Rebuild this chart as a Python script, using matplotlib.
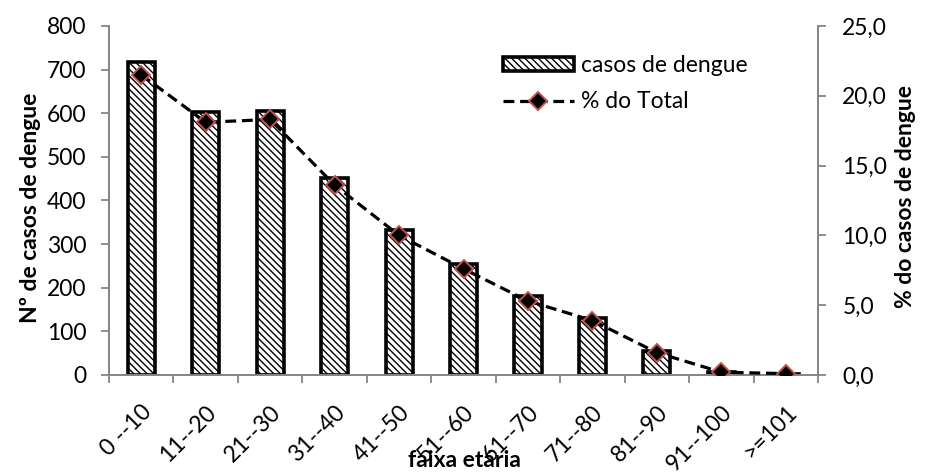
import matplotlib
matplotlib.use("Agg")
import matplotlib.pyplot as plt
import numpy as np
from matplotlib.ticker import FuncFormatter, FixedLocator

plt.rcParams['font.family'] = ['Lato', 'DejaVu Sans']
plt.rcParams['hatch.linewidth'] = 1.0

categories = ["0 --10", "11--20", "21--30", "31--40", "41--50", "51--60",
              "61--70", "71--80", "81--90", "91--100", ">=101"]
casos = [717, 603, 606, 452, 332, 255, 180, 130, 55, 6, 2]
percent = [21.5, 18.1, 18.3, 13.6, 10.0, 7.6, 5.3, 3.9, 1.6, 0.2, 0.1]

FS = 16.5

fig = plt.figure(figsize=(9.28, 4.73), dpi=100)
ax = fig.add_axes([0.1175, 0.2072, 0.764, 0.738])
ax2 = ax.twinx()

x = np.arange(len(categories))
gray = '#868686'

bars = ax.bar(x, casos, width=0.42, facecolor='white', edgecolor='black',
              linewidth=2.6, hatch='\\\\\\\\\\', label='casos de dengue', zorder=2)

line, = ax2.plot(x, percent, linestyle=(0, (3.4, 1.8)), color='black', linewidth=2.3,
                 marker='D', markersize=9, markerfacecolor='black',
                 markeredgecolor='#C0504D', markeredgewidth=1.4, label='% do Total', zorder=3)

ax.set_xlim(-0.5, len(categories) - 0.5)
ax.set_ylim(0, 800)
ax.set_yticks(np.arange(0, 801, 100))
ax2.set_ylim(0, 25)
ax2.set_yticks(np.arange(0, 26, 5))
ax2.yaxis.set_major_formatter(FuncFormatter(lambda v, p: f"{v:.1f}".replace('.', ',')))

ax.set_xticks(x)
ax.set_xticklabels(categories, rotation=45, ha='right', rotation_mode='anchor', fontsize=FS)
ax.tick_params(axis='x', which='major', length=0, pad=19)
ax.xaxis.set_minor_locator(FixedLocator(np.arange(-0.5, len(categories), 1.0)))
ax.tick_params(axis='x', which='minor', length=5.5, color=gray, width=1.3, direction='out')

for a in (ax, ax2):
    a.spines['top'].set_visible(False)
    for s in ['left', 'right', 'bottom']:
        a.spines[s].set_color(gray)
        a.spines[s].set_linewidth(1.3)
ax.tick_params(axis='y', length=5.5, color=gray, width=1.3, labelsize=FS, pad=11)
ax2.tick_params(axis='y', length=5.5, color=gray, width=1.3, labelsize=FS, pad=12)

ax.text(-0.111, 0.48, 'Nº de casos de dengue', transform=ax.transAxes, rotation=90,
        fontsize=FS, fontweight='bold', ha='center', va='center')
ax.text(1.123, 0.51, '% do casos de dengue', transform=ax.transAxes, rotation=90,
        fontsize=FS, fontweight='bold', ha='center', va='center')
fig.text(0.5, 0.012, 'faixa etária', fontsize=FS, fontweight='bold', ha='center', va='baseline')

leg = ax2.legend([bars, line], ['casos de dengue', '% do Total'], loc='upper left',
                 bbox_to_anchor=(0.526, 0.975), frameon=False, fontsize=FS,
                 handlelength=3.1, handleheight=0.55, handletextpad=0.3, labelspacing=0.65)

fig.savefig('out.png', dpi=100)
